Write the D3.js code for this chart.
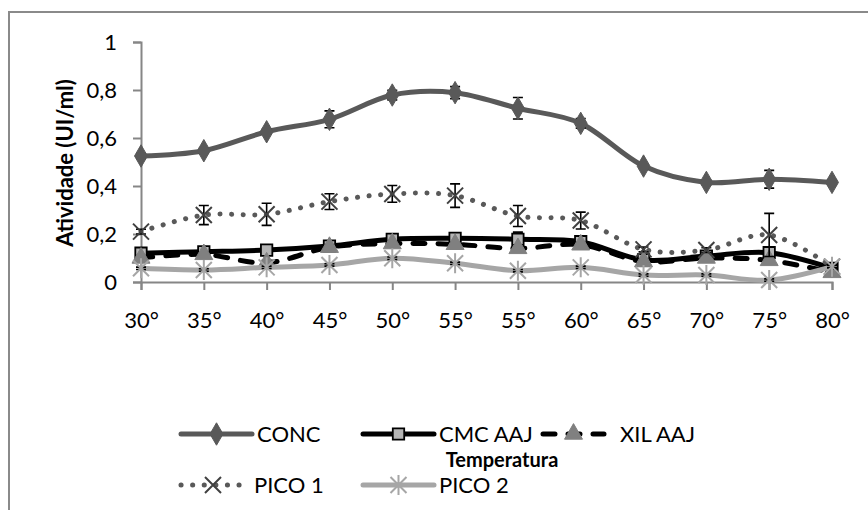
<!DOCTYPE html>
<html>
<head>
<meta charset="utf-8">
<script src="https://cdn.jsdelivr.net/npm/d3@7"></script>
<style>
  body { margin: 0; background: #fff; }
  svg { display: block; font-family: Lato, "Liberation Sans", sans-serif; }
</style>
</head>
<body>
<svg width="868" height="510"></svg>
<script>
// categories (note: 55° appears twice in the original)
const categories = ['30°', '35°', '40°', '45°', '50°', '55°', '55°', '60°', '65°', '70°', '75°', '80°'];

const conc = [0.525, 0.547, 0.626, 0.678, 0.779, 0.789, 0.724, 0.661, 0.483, 0.415, 0.428, 0.415];
const concErr = [0.01, 0.01, 0.01, 0.035, 0.02, 0.025, 0.045, 0.02, 0.01, 0.01, 0.037, 0.01];
const cmc = [0.12, 0.126, 0.133, 0.15, 0.178, 0.182, 0.178, 0.168, 0.092, 0.108, 0.122, 0.057];
const cmcErr = [0.01, 0.01, 0.01, 0.01, 0.01, 0.01, 0.03, 0.01, 0.01, 0.01, 0.01, 0.01];
const xil = [0.1, 0.115, 0.08, 0.145, 0.16, 0.157, 0.14, 0.155, 0.085, 0.1, 0.09, 0.04];
const xilErr = [0.01, 0.01, 0.01, 0.01, 0.01, 0.01, 0.01, 0.01, 0.01, 0.01, 0.01, 0.01];
const pico1 = [0.21, 0.279, 0.282, 0.335, 0.367, 0.36, 0.275, 0.256, 0.136, 0.133, 0.196, 0.064];
const pico1Err = [0.01, 0.04, 0.046, 0.033, 0.035, 0.049, 0.044, 0.035, 0.01, 0.01, 0.09, 0.01];
const pico2 = [0.057, 0.05, 0.061, 0.071, 0.099, 0.078, 0.047, 0.061, 0.029, 0.029, 0.008, 0.064];
const pico2Err = [0.005, 0.005, 0.005, 0.005, 0.005, 0.005, 0.005, 0.005, 0.005, 0.005, 0.005, 0.005];

const yTicks = [0, 0.2, 0.4, 0.6, 0.8, 1];
const yTickLabels = ['0', '0,2', '0,4', '0,6', '0,8', '1'];

const svg = d3.select('svg');

// outer chart border (runs off right and bottom like the original)
svg.append('rect')
  .attr('x', 9).attr('y', 12)
  .attr('width', 900).attr('height', 540)
  .attr('fill', 'none')
  .attr('stroke', '#8a8a8a')
  .attr('stroke-width', 2);

const x = d3.scalePoint()
  .domain(d3.range(categories.length))
  .range([141, 832]);

const y = d3.scaleLinear()
  .domain([0, 1])
  .range([282, 42]);

// axes
const yAxis = d3.axisLeft(y)
  .tickValues(yTicks)
  .tickSize(8)
  .tickPadding(16)
  .tickFormat((d, i) => yTickLabels[i]);

const xAxis = d3.axisBottom(x)
  .tickSize(8)
  .tickPadding(22)
  .tickFormat(i => categories[i]);

const gy = svg.append('g').attr('transform', 'translate(141,0)').call(yAxis);
const gx = svg.append('g').attr('transform', 'translate(0,282)').call(xAxis);

[gx, gy].forEach(g => {
  g.select('.domain').attr('stroke', '#868686').attr('stroke-width', 2);
  g.selectAll('.tick line').attr('stroke', '#868686').attr('stroke-width', 2);
  g.selectAll('text').attr('font-size', 22).attr('fill', '#000').attr('font-family', 'Lato, sans-serif');
});

svg.append('text')
  .attr('transform', 'translate(73,163) rotate(-90)')
  .attr('text-anchor', 'middle')
  .attr('font-size', 22)
  .attr('font-weight', 'bold')
  .text('Atividade (UI/ml)');

// markers
const diamond = d3.symbol().type(d3.symbolDiamond).size(145);
const square = d3.symbol().type(d3.symbolSquare).size(130);
const triangle = d3.symbol().type(d3.symbolTriangle).size(140);
const crossX = 'M-8,-8L8,8M-8,8L8,-8';
const star = 'M-8,-8L8,8M-8,8L8,-8M0,-10L0,10';

const series = [
  { name: 'CONC', values: conc, err: concErr, color: '#595959', width: 5, dash: null,
    marker: diamond(), mFill: '#595959', mStroke: '#595959', mWidth: 1 },
  { name: 'CMC AAJ', values: cmc, err: cmcErr, color: '#000', width: 5, dash: null,
    marker: square(), mFill: '#b5b5b5', mStroke: '#000', mWidth: 1.8 },
  { name: 'XIL AAJ', values: xil, err: xilErr, color: '#000', width: 5, dash: '12 13',
    marker: triangle(), mFill: '#808080', mStroke: '#808080', mWidth: 1 },
  { name: 'PICO 1', values: pico1, err: pico1Err, color: '#595959', width: 5, dash: '0.1 11.5',
    marker: crossX, mFill: 'none', mStroke: '#404040', mWidth: 2 },
  { name: 'PICO 2', values: pico2, err: pico2Err, color: '#a6a6a6', width: 5, dash: null,
    marker: star, mFill: 'none', mStroke: '#a6a6a6', mWidth: 2 }
];

const line = d3.line()
  .x((d, i) => x(i))
  .y(d => y(d))
  .curve(d3.curveCatmullRom.alpha(0));

series.forEach(s => {
  const g = svg.append('g');
  g.append('path')
    .attr('d', line(s.values))
    .attr('fill', 'none')
    .attr('stroke', s.color)
    .attr('stroke-width', s.width)
    .attr('stroke-linecap', 'round')
    .attr('stroke-linejoin', 'round')
    .attr('stroke-dasharray', s.dash);

  // error bars
  s.values.forEach((v, i) => {
    const e = s.err[i];
    const cx = x(i);
    g.append('path')
      .attr('d', `M${cx},${y(v + e)}V${y(v - e)}M${cx - 5},${y(v + e)}H${cx + 5}M${cx - 5},${y(v - e)}H${cx + 5}`)
      .attr('stroke', '#000')
      .attr('stroke-width', 1.6)
      .attr('fill', 'none');
  });

  g.selectAll('.m')
    .data(s.values)
    .enter()
    .append('path')
    .attr('transform', (d, i) => `translate(${x(i)},${y(d)})`)
    .attr('d', s.marker)
    .attr('fill', s.mFill)
    .attr('stroke', s.mStroke)
    .attr('stroke-width', s.mWidth);
});

// legend
const legendPos = [
  { x: 181, y: 434, w: 71 },
  { x: 363, y: 434, w: 71 },
  { x: 543, y: 434, w: 61 },
  { x: 181, y: 485, w: 64 },
  { x: 363, y: 485, w: 71 }
];
const legendText = [257, 439, 620, 254, 439];

series.forEach((s, i) => {
  const p = legendPos[i];
  const g = svg.append('g');
  g.append('line')
    .attr('x1', p.x).attr('x2', p.x + p.w)
    .attr('y1', p.y).attr('y2', p.y)
    .attr('stroke', s.color)
    .attr('stroke-width', s.width)
    .attr('stroke-linecap', 'round')
    .attr('stroke-dasharray', s.dash);
  g.append('path')
    .attr('transform', `translate(${p.x + p.w / 2},${p.y})`)
    .attr('d', s.marker)
    .attr('fill', s.mFill)
    .attr('stroke', s.mStroke)
    .attr('stroke-width', s.mWidth);
  g.append('text')
    .attr('x', legendText[i])
    .attr('y', p.y)
    .attr('dy', '0.35em')
    .attr('font-size', 22)
    .text(s.name);
});

svg.append('text')
  .attr('x', 502)
  .attr('y', 467)
  .attr('text-anchor', 'middle')
  .attr('font-size', 20)
  .attr('font-weight', 'bold')
  .text('Temperatura');
</script>
</body>
</html>
